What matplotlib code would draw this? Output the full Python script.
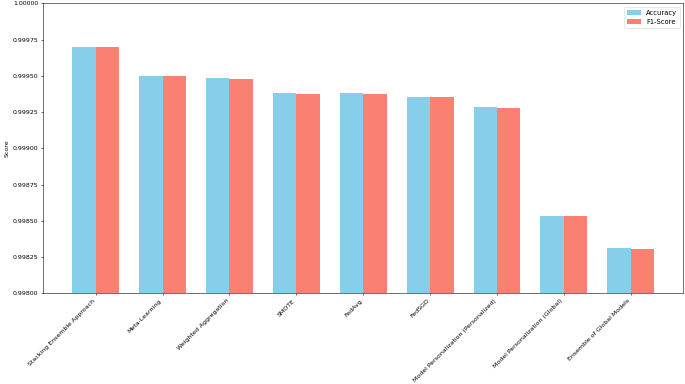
"""Accuracy vs F1-score bar chart for the federated learning strategies."""

import matplotlib

matplotlib.use("Agg")
import matplotlib.pyplot as plt
import numpy as np
from matplotlib import ticker

methods = [
    "Stacking Ensemble Approach",
    "Meta-Learning",
    "Weighted Aggregation",
    "SMOTE",
    "FedAvg",
    "FedSGD",
    "Model Personalization (Personalized)",
    "Model Personalization (Global)",
    "Ensemble of Global Models",
]
accuracy = [0.99970, 0.99950, 0.999483, 0.999383, 0.999383, 0.999355, 0.999285, 0.998535, 0.99831]
f1_score = [0.99970, 0.99950, 0.999478, 0.999378, 0.999378, 0.999353, 0.999280, 0.998533, 0.998305]

# the original was a big figure shrunk to about half size, so scale fonts/lines
scale = 0.49
font_scale = 0.45
plt.rcParams.update({
    "font.size": 10 * font_scale,
    "axes.linewidth": 0.8 * scale,
    "xtick.major.width": 0.8 * scale,
    "ytick.major.width": 0.8 * scale,
    "xtick.major.size": 3.5 * scale,
    "ytick.major.size": 3.5 * scale,
    "xtick.major.pad": 3.5 * scale,
    "ytick.major.pad": 3.5 * scale,
    "legend.fontsize": 10 * scale,
})

fig = plt.figure(figsize=(6.85, 3.84), dpi=100)
ax = fig.add_axes([0.063, 0.236, 0.9345, 0.755])

x = np.arange(len(methods))
width = 0.35
ax.bar(x - width / 2, accuracy, width, label="Accuracy", color="skyblue")
ax.bar(x + width / 2, f1_score, width, label="F1-Score", color="salmon")

ax.set_ylim(0.998, 1.0)
ax.yaxis.set_major_locator(ticker.MultipleLocator(0.00025))
ax.yaxis.set_major_formatter(ticker.FormatStrFormatter("%.5f"))
ax.set_ylabel("Score", labelpad=4 * scale)

ax.set_xticks(x)
ax.set_xticklabels(methods, rotation=45, ha="right")

leg = ax.legend(loc="upper right", borderpad=0.4, handlelength=2.0, framealpha=0.8)
leg.get_frame().set_linewidth(0.8 * scale)

fig.savefig("out.png", dpi=100)
